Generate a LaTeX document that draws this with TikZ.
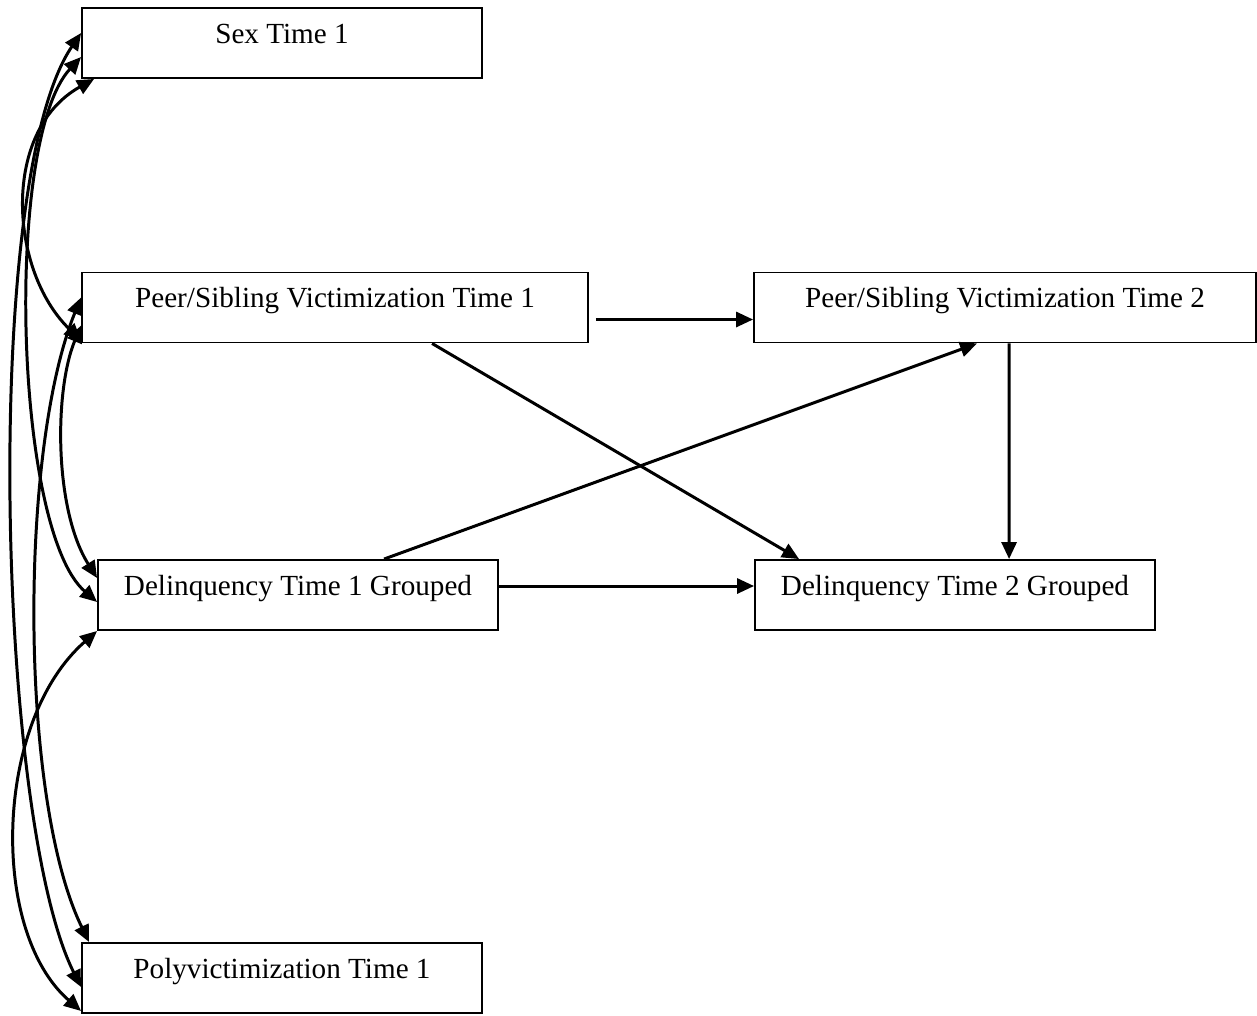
\documentclass[tikz,border=0pt]{standalone}
\usepackage{fontspec}
\setmainfont{Liberation Serif}
\usetikzlibrary{arrows.meta,calc}

\begin{document}
\begin{tikzpicture}[x=0.02cm,y=0.02cm,
        box/.style={draw,line width=1.1pt,inner sep=0pt,text height=0.7cm,text depth=0.7cm,font=\fontsize{16.6}{20}\selectfont},
        effect/.style={line width=1.7pt,-{Triangle[length=0.34cm,width=0.3cm]}},
        covar/.style={line width=1.7pt,{Triangle[length=0.34cm,width=0.3cm]}-{Triangle[length=0.34cm,width=0.3cm]}}]
        \useasboundingbox (0,0) rectangle (1257,-1015);
        \node[box,minimum width=8cm] (sex) at (282,-43) {Sex Time 1};
        \node[box,minimum width=10.12cm] (psv1) at (335,-307.5) {Peer/Sibling Victimization Time 1};
        \node[box,minimum width=10.04cm] (psv2) at (1005,-307.5) {Peer/Sibling Victimization Time 2};
        \node[box,minimum width=8cm] (del1) at (298,-595) {Delinquency Time 1 Grouped};
        \node[box,minimum width=8cm] (del2) at (955,-595) {Delinquency Time 2 Grouped};
        \node[box,minimum width=8cm] (poly) at (282,-978) {Polyvictimization Time 1};
        % paths
        \draw[effect] ($(psv1.east)+(7,-12)$) -- ($(psv2.west)+(0,-12)$);
        \draw[effect] ($(psv1.south west)+(351,0)$) -- ($(del2.north west)+(45,0)$);
        \draw[effect] ($(del1.north west)+(287,0)$) -- ($(psv2.south west)+(224,0)$);
        \draw[effect] ($(psv2.south west)+(256,0)$) -- ($(del2.north west)+(255,0)$);
        \draw[effect] ($(del1.east)+(0,9)$) -- ($(del2.west)+(0,9)$);
        % correlations
        \draw[covar] ($(sex.south west)+(13,0)$) .. controls +(-93,-52) and +(-72,70) .. ($(psv1.south west)+(0,3)$);
        \draw[covar] ($(sex.west)+(0,-14)$) .. controls +(-77,-83) and +(-83,72) .. ($(del1.west)+(0,-7)$);
        \draw[covar] ($(sex.west)+(0,10)$) .. controls +(-100,-147) and +(-84,167) .. ($(poly.west)+(0,-9)$);
        \draw[covar] ($(psv1.west)+(0,-18)$) .. controls +(-27,-65) and +(-43,68) .. ($(del1.west)+(0,17)$);
        \draw[covar] ($(psv1.west)+(0,10)$) .. controls +(-62,-152) and +(-70,143) .. ($(poly.north west)+(8,0)$);
        \draw[covar] (del1.south west) .. controls +(-103,-90) and +(-92,80) .. ($(poly.south west)+(0,3)$);
    \end{tikzpicture}
\end{document}
